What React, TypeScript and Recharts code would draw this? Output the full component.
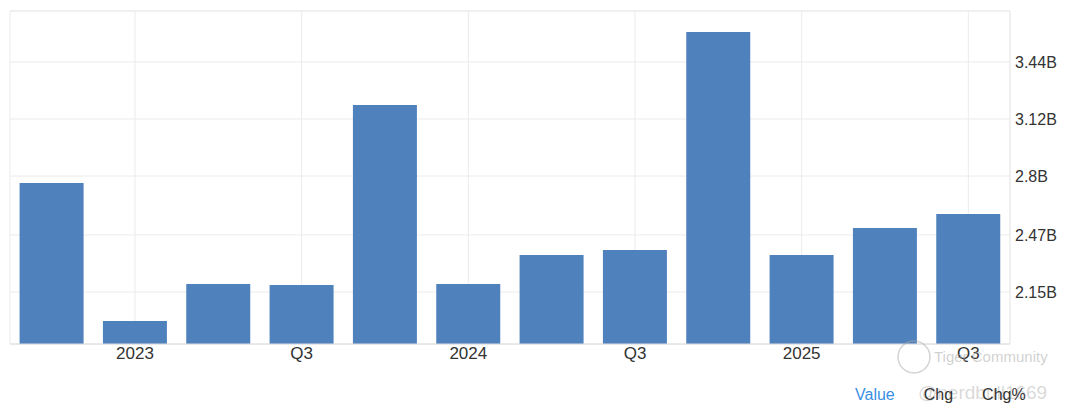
import { BarChart, Bar, XAxis, YAxis, CartesianGrid, ReferenceLine } from 'recharts';

const quarters = ['Q4 2022', 'Q1 2023', 'Q2 2023', 'Q3 2023', 'Q4 2023', 'Q1 2024', 'Q2 2024', 'Q3 2024', 'Q4 2024', 'Q1 2025', 'Q2 2025', 'Q3 2025'];
const values = [2.761, 1.987, 2.195, 2.189, 3.199, 2.195, 2.357, 2.386, 3.608, 2.357, 2.509, 2.587];
const xTickLabels = ['', '2023', '', 'Q3', '', '2024', '', 'Q3', '', '2025', '', 'Q3'];
const yTicks = [2.15, 2.47, 2.8, 3.12, 3.44];
const yTickLabels = ['2.15B', '2.47B', '2.8B', '3.12B', '3.44B'];
const yDomain = [1.858, 3.726];
const legendItems = ['Value', 'Chg', 'Chg%'];

const data = quarters.map((q, i) => ({ quarter: q, value: values[i] }));
// only the labelled quarters get a tick (and so a vertical grid line)
const xTicks = quarters.filter((_q, i) => xTickLabels[i] !== '');

const font = '"Liberation Sans", Arial, sans-serif';
const gridColor = '#ebebeb';

export default function App() {
  return (
    <div style={{ position: 'absolute', left: 0, top: 0, width: 1069, height: 417, background: '#fff', fontFamily: font }}>
      <BarChart
        width={1069}
        height={370}
        data={data}
        margin={{ top: 11, right: 0, bottom: 0, left: 10 }}
        barCategoryGap="11.5%"
      >
        <CartesianGrid stroke={gridColor} />
        <ReferenceLine y={yDomain[1]} stroke={gridColor} />
        <XAxis
          dataKey="quarter"
          ticks={xTicks}
          interval={0}
          height={26}
          tickLine={false}
          tickSize={0}
          tickMargin={3}
          axisLine={{ stroke: '#dcdcdc' }}
          tick={{ fill: '#333', fontSize: 17, fontFamily: font }}
          tickFormatter={(v: string) => xTickLabels[quarters.indexOf(v)]}
        />
        <YAxis
          orientation="right"
          domain={yDomain}
          ticks={yTicks}
          width={59}
          tickLine={false}
          tickSize={0}
          tickMargin={5}
          axisLine={{ stroke: gridColor }}
          tick={{ fill: '#333', fontSize: 16, fontFamily: font, textAnchor: 'start' }}
          tickFormatter={(_v: number, i: number) => yTickLabels[i]}
        />
        <YAxis
          yAxisId="frame"
          orientation="left"
          domain={yDomain}
          width={0}
          tick={false}
          tickLine={false}
          axisLine={{ stroke: gridColor }}
        />
        <Bar dataKey="value" fill="#4f81bd" isAnimationActive={false} />
      </BarChart>

      {/* watermark */}
      <svg style={{ position: 'absolute', left: 896, top: 339 }} width={36} height={36}>
        <circle cx={18} cy={18} r={16} fill="none" stroke="rgba(170,170,170,0.5)" strokeWidth={1.5} />
      </svg>
      <div style={{ position: 'absolute', left: 934, top: 348, fontSize: 15, color: 'rgba(170,170,170,0.55)' }}>
        Tiger Community
      </div>
      <div style={{ position: 'absolute', left: 918, top: 382, fontSize: 19, color: 'rgba(170,170,170,0.45)' }}>
        @nerdbull1669
      </div>

      <div style={{ position: 'absolute', left: 855, top: 386, display: 'flex', gap: 29, fontSize: 16 }}>
        {legendItems.map((item, i) => (
          <span key={item} style={{ color: i === 0 ? '#3b8fe3' : '#333' }}>{item}</span>
        ))}
      </div>
    </div>
  );
}
